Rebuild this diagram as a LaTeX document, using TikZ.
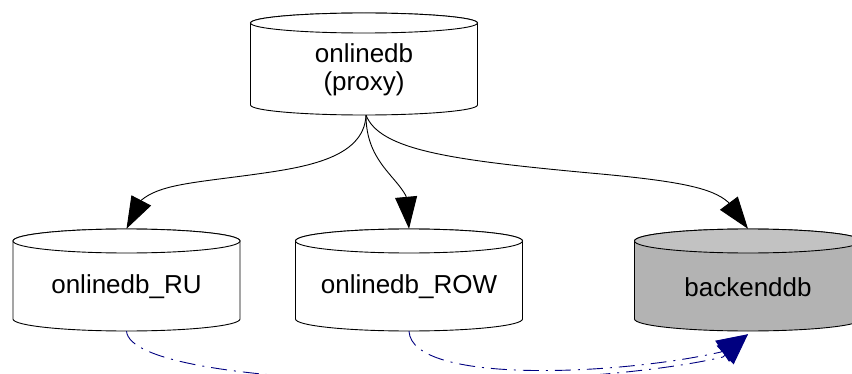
\documentclass[tikz,border=0pt]{standalone}
\usepackage{fontspec}
\setmainfont{Liberation Sans}
\usetikzlibrary{arrows.meta}
\definecolor{navyblue}{HTML}{000080}
\definecolor{dbgray}{HTML}{B3B3B3}
\definecolor{dbgraytop}{HTML}{C2C2C2}
\tikzset{
  cylline/.style={draw=black, line width=0.9pt},
  dbnode/.style={inner sep=0pt, minimum width=227pt, minimum height=102pt,
    font=\fontsize{26}{28}\selectfont},
  feed/.style={draw=black, line width=0.9pt, -{Triangle[length=32pt,width=22pt]}},
  sync/.style={draw=navyblue, line width=0.9pt,
    dash pattern=on 16pt off 7pt on 2pt off 7pt,
    -{Triangle[length=31pt,width=25pt,fill=navyblue]}},
}
% #1 cx, #2 Y of top-ellipse centre, #3 Y of bottom-ellipse centre, #4 ry, #5 body fill, #6 top fill
\newcommand\dbcyl[6]{%
  \path[cylline, fill=#5] (#1-113.5,#2) -- (#1-113.5,#3)
    arc[start angle=180,end angle=360,x radius=113.5,y radius=#4]
    -- (#1+113.5,#2)
    arc[start angle=0,end angle=180,x radius=113.5,y radius=#4] -- cycle;
  \path[cylline, fill=#6] (#1,#2) ellipse[x radius=113.5,y radius=#4];
}
\newcommand\dblabel[1]{\raisebox{-7pt}[\height][\depth]{#1}}
\begin{document}
\begin{tikzpicture}[x=1pt,y=1pt]
\useasboundingbox (0,0) rectangle (852,373);
\clip (0,0) rectangle (852,373);
% cylinders
\dbcyl{364}{350}{268}{10}{white}{white}
\dbcyl{126.5}{132}{54}{12}{white}{white}
\dbcyl{409}{132}{54}{12}{white}{white}
\dbcyl{748}{132}{54}{12}{dbgray}{dbgraytop}
% nodes
\node[dbnode] (top) at (364,309) {\dblabel{\begin{tabular}{@{}c@{}}onlinedb\\(proxy)\end{tabular}}};
\node[dbnode] (ru)  at (126.5,93) {\dblabel{onlinedb\_RU}};
\node[dbnode] (row) at (409,93) {\dblabel{onlinedb\_ROW}};
\node[dbnode] (bk)  at (748,93) {\dblabel{backenddb}};
% solid edges
\draw[feed] ([xshift=2pt]top.south) .. controls (364,213) and (300,205) .. (250,198)
  .. controls (190,190) and (160,188) .. (141.5,173) -- (ru.north);
\draw[feed] ([xshift=2pt]top.south) .. controls (366,213) and (395,198) .. (406,177) -- (row.north);
\draw[feed] ([xshift=2pt]top.south) .. controls (380,223) and (450,213) .. (590,200)
  .. controls (680,192) and (712,185) .. (728,171) -- (bk.north);
% dash-dot edges
\draw[sync] (row.south) .. controls (412,-12) and (620,-2) .. (721,21) -- ([yshift=-3pt]bk.south);
\draw[sync] (ru.south) .. controls (132,-17) and (560,-22) .. (723,16) -- ([yshift=-3pt]bk.south);
\end{tikzpicture}
\end{document}
